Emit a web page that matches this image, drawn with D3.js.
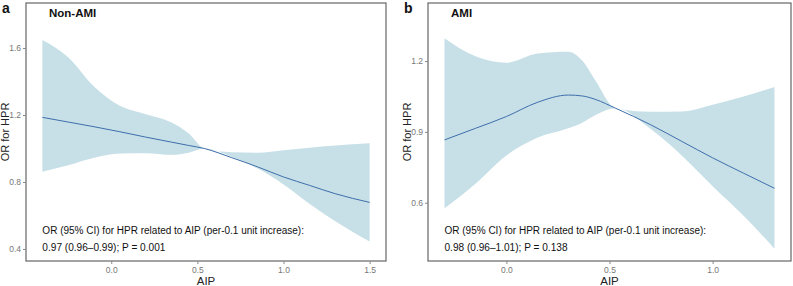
<!DOCTYPE html>
<html lang="en">
  <head>
    <meta charset="UTF-8" />
    <title>OR for HPR by AIP</title>
    <script src="https://d3js.org/d3.v7.min.js"></script>
    <style>
      body {
        margin: 0;
        background: #fff;
        font-family: "Liberation Sans", Arial, sans-serif;
      }
      svg {
        display: block;
      }
    </style>
  </head>
  <body>
    <svg id="chart" width="793" height="286"></svg>

    <script>
      // Panel a: Non-AMI
      const aipA = [-0.4, -0.25, -0.1, 0.05, 0.2, 0.35, 0.45, 0.54, 0.7, 0.85, 1.0, 1.15, 1.3, 1.5];
      const orA = [1.186, 1.158, 1.13, 1.1, 1.068, 1.038, 1.018, 1.0, 0.945, 0.89, 0.83, 0.78, 0.73, 0.678];
      const lowA = [0.861, 0.9, 0.945, 0.97, 0.972, 0.962, 0.975, 1.0, 0.95, 0.88, 0.785, 0.67, 0.565, 0.444];
      const upA = [1.648, 1.545, 1.37, 1.255, 1.205, 1.155, 1.09, 1.0, 0.978, 0.975, 0.99, 1.005, 1.018, 1.031];

      // Panel b: AMI
      const aipB = [-0.3, -0.15, 0.0, 0.15, 0.3, 0.37, 0.43, 0.53, 0.7, 0.85, 1.0, 1.15, 1.3];
      const orB = [0.866, 0.915, 0.965, 1.025, 1.056, 1.052, 1.038, 1.0, 0.93, 0.86, 0.79, 0.725, 0.661];
      const lowB = [0.576, 0.68, 0.8, 0.875, 0.915, 0.94, 0.97, 1.0, 0.912, 0.8, 0.67, 0.545, 0.405];
      const upB = [1.297, 1.22, 1.193, 1.232, 1.24, 1.2, 1.12, 1.0, 0.985, 0.986, 1.015, 1.05, 1.09];

      const ticksXA = [0.0, 0.5, 1.0, 1.5];
      const ticksYA = [0.4, 0.8, 1.2, 1.6];
      const ticksXB = [0.0, 0.5, 1.0];
      const ticksYB = [0.6, 0.9, 1.2];

      const panels = [
        {
          tag: "a", title: "Non-AMI",
          x: aipA, or: orA, low: lowA, up: upA,
          xDomain: [-0.495, 1.595], yDomain: [0.328, 1.869],
          xTicks: ticksXA, yTicks: ticksYA,
          left: 26, right: 386,
          note1: "OR (95% CI) for HPR related to AIP (per-0.1 unit increase):",
          note2: "0.97 (0.96\u20130.99); P = 0.001",
        },
        {
          tag: "b", title: "AMI",
          x: aipB, or: orB, low: lowB, up: upB,
          xDomain: [-0.38, 1.38], yDomain: [0.353, 1.446],
          xTicks: ticksXB, yTicks: ticksYB,
          left: 428, right: 791,
          note1: "OR (95% CI) for HPR related to AIP (per-0.1 unit increase):",
          note2: "0.98 (0.96\u20131.01); P = 0.138",
        },
      ];

      const plotTop = 3, plotBottom = 261;
      const svg = d3.select("#chart");

      panels.forEach((p) => {
        const x = d3.scaleLinear().domain(p.xDomain).range([p.left, p.right]);
        const y = d3.scaleLinear().domain(p.yDomain).range([plotBottom, plotTop]);
        const rows = p.x.map((v, i) => ({ x: v, or: p.or[i], low: p.low[i], up: p.up[i] }));

        const g = svg.append("g");

        const area = d3.area()
          .x((d) => x(d.x))
          .y0((d) => y(d.low))
          .y1((d) => y(d.up))
          .curve(d3.curveMonotoneX);
        g.append("path").datum(rows).attr("d", area).attr("fill", "#c7e0e7");

        const line = d3.line()
          .x((d) => x(d.x))
          .y((d) => y(d.or))
          .curve(d3.curveMonotoneX);
        g.append("path").datum(rows).attr("d", line)
          .attr("fill", "none").attr("stroke", "#3e6eab").attr("stroke-width", 1);

        // frame
        g.append("rect")
          .attr("x", p.left).attr("y", plotTop)
          .attr("width", p.right - p.left).attr("height", plotBottom - plotTop)
          .attr("fill", "none").attr("stroke", "#666").attr("stroke-width", 1.2);

        const ax = g.append("g").attr("transform", `translate(0,${plotBottom})`)
          .call(d3.axisBottom(x).tickValues(p.xTicks).tickSize(3).tickFormat(d3.format(".1f")));
        const ay = g.append("g").attr("transform", `translate(${p.left},0)`)
          .call(d3.axisLeft(y).tickValues(p.yTicks).tickSize(3).tickPadding(2).tickFormat(d3.format(".1f")));
        [ax, ay].forEach((a) => {
          a.select(".domain").remove();
          a.selectAll("line").attr("stroke", "#888");
          a.selectAll("text").attr("fill", "#777").style("font-size", "8.5px")
            .style("font-family", "'Liberation Sans', Arial, sans-serif");
        });

        g.append("text").attr("x", p.left - 24).attr("y", 13).text(p.tag)
          .style("font-size", "14px").style("font-weight", "bold").attr("fill", "#111");
        g.append("text").attr("x", p.left + 23).attr("y", 16.5).text(p.title)
          .style("font-size", "11.5px").style("font-weight", "bold").attr("fill", "#111");

        g.append("text")
          .attr("transform", `translate(${p.left - 17},${(plotTop + plotBottom) / 2}) rotate(-90)`)
          .attr("text-anchor", "middle").text("OR for HPR")
          .style("font-size", "11px").attr("fill", "#222");
        g.append("text").attr("x", (p.left + p.right) / 2).attr("y", 285)
          .attr("text-anchor", "middle").text("AIP")
          .style("font-size", "11.5px").attr("fill", "#222");

        const nx = x(p.x[0]);
        g.append("text").attr("x", nx).attr("y", 234).text(p.note1)
          .style("font-size", "10px").attr("fill", "#111");
        g.append("text").attr("x", nx).attr("y", 251).text(p.note2)
          .style("font-size", "10.1px").attr("fill", "#111");
      });
    </script>
  </body>
</html>
